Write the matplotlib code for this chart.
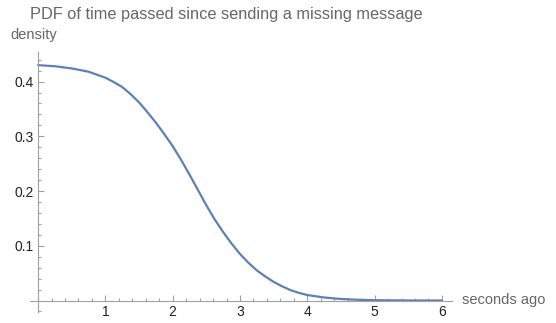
import numpy as np
import matplotlib
matplotlib.use('Agg')
import matplotlib.pyplot as plt
from matplotlib.ticker import MultipleLocator, FixedLocator

# 曲线数据
t_sec = [0.0, 0.25, 0.5, 0.75, 1.0, 1.125, 1.25, 1.375, 1.5, 1.625, 1.75,
         1.875, 2.0, 2.125, 2.25, 2.375, 2.5, 2.625, 2.75, 2.875, 3.0,
         3.125, 3.25, 3.375, 3.5, 3.625, 3.75, 3.875, 4.0, 4.25, 4.5,
         4.75, 5.0, 5.25, 5.5, 6.0]
density = [0.430, 0.428, 0.424, 0.418, 0.407, 0.399, 0.390, 0.377, 0.362,
           0.344, 0.325, 0.304, 0.282, 0.257, 0.230, 0.202, 0.174, 0.148,
           0.125, 0.104, 0.085, 0.069, 0.055, 0.044, 0.034, 0.026, 0.019,
           0.014, 0.010, 0.0055, 0.0028, 0.0013, 0.0006, 0.0003, 0.0001, 0.0]

x_ticks = [1, 2, 3, 4, 5, 6]
y_ticks = [0.1, 0.2, 0.3, 0.4]

plt.rcParams['font.family'] = ['Liberation Sans', 'DejaVu Sans']

fig = plt.figure(figsize=(5.56, 3.23), dpi=100)
ax = fig.add_axes([30/556, 11/323, 422/556, 260/323])

ax.plot(t_sec, density, color='#5E81B5', lw=1.6, solid_capstyle='round',
        solid_joinstyle='round')

ax.set_xlim(-0.12, 6.15)
ax.set_ylim(-0.021, 0.454)

# 坐标轴交于原点
ax.spines['left'].set_position(('data', 0))
ax.spines['bottom'].set_position(('data', 0))
ax.spines['right'].set_visible(False)
ax.spines['top'].set_visible(False)
for s in ['left', 'bottom']:
    ax.spines[s].set_color('#a0a0a0')
    ax.spines[s].set_linewidth(0.8)

ax.xaxis.set_major_locator(FixedLocator(x_ticks))
ax.yaxis.set_major_locator(FixedLocator(y_ticks))
ax.xaxis.set_minor_locator(MultipleLocator(0.2))
ax.yaxis.set_minor_locator(MultipleLocator(0.02))
ax.tick_params(which='both', direction='in', color='#a0a0a0', width=0.8,
               labelsize=10, labelcolor='#222222')
ax.tick_params(which='major', length=4, pad=3)
ax.tick_params(which='minor', length=2.2)
ax.set_yticklabels(['0.1', '0.2', '0.3', '0.4'])

fig.text(30/556, 1 - 14/323, 'PDF of time passed since sending a missing message',
         fontsize=11.8, color='#666666', ha='left', va='center')
fig.text(10/556, 1 - 35/323, 'density', fontsize=10.5, color='#666666',
         ha='left', va='center')
fig.text(462/556, 1 - 300/323, 'seconds ago', fontsize=10.5, color='#666666',
         ha='left', va='center')

plt.savefig('out.png', dpi=100)
